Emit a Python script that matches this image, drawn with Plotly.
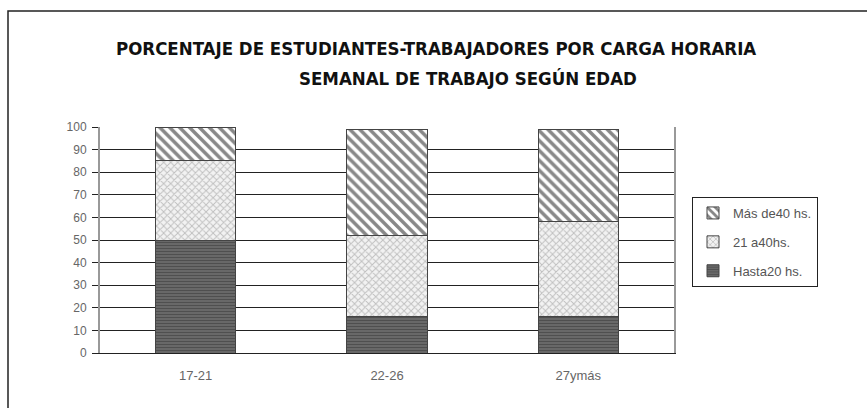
import plotly.graph_objects as go

categories = ["17-21", "22-26", "27ymás"]
hasta20 = [50, 16, 16]
de21a40 = [35, 36, 42]
mas40 = [15, 47, 41]
series_names = ["Hasta20 hs.", "21 a40hs.", "Más de40 hs."]
yticks = [0, 10, 20, 30, 40, 50, 60, 70, 80, 90, 100]

fig = go.Figure()
fig.add_trace(go.Bar(
    x=categories, y=hasta20, name=series_names[0], legendgroup="a", legendrank=3,
    marker=dict(color="#5a5a5a", line=dict(color="#444", width=1),
                pattern=dict(shape="-", fgcolor="#333", bgcolor="#6a6a6a", size=3, solidity=0.4)),
))
fig.add_trace(go.Bar(
    x=categories, y=de21a40, name=series_names[1], legendgroup="b", legendrank=2,
    marker=dict(color="#e0e0e0", line=dict(color="#444", width=1),
                pattern=dict(shape="x", fgcolor="#8c8c8c", bgcolor="#f2f2f2", size=5, solidity=0.35)),
))
fig.add_trace(go.Bar(
    x=categories, y=mas40, name=series_names[2], legendgroup="c", legendrank=1,
    marker=dict(color="white", line=dict(color="#444", width=1),
                pattern=dict(shape="\\", fgcolor="#111", bgcolor="white", size=7, solidity=0.5)),
))

W, H = 867, 408
L, R, T, B = 100, 193, 127, 55
pw, ph = W - L - R, H - T - B

def px2x(px):
    return (px - L) / pw

def py2y(py):
    return (H - B - py) / ph

title_font = dict(family="Liberation Sans Narrow, DejaVu Sans Condensed, DejaVu Sans",
                  size=18.5, color="#111")

fig.update_layout(
    width=W, height=H,
    barmode="stack", bargap=0.58,
    margin=dict(l=L, r=R, t=T, b=B, autoexpand=False),
    paper_bgcolor="white", plot_bgcolor="white",
    font=dict(family="Liberation Sans, Arial", size=12, color="#555"),
    showlegend=True,
    legend=dict(
        x=px2x(692), y=py2y(197), xanchor="left", yanchor="top",
        bordercolor="#222", borderwidth=1, bgcolor="white",
        font=dict(size=13, color="#555"), traceorder="grouped",
        itemwidth=30, tracegroupgap=9,
    ),
    xaxis=dict(
        showgrid=False, showline=True, linecolor="#222", linewidth=1,
        ticks="", tickfont=dict(size=13, color="#666"), ticklabelstandoff=10,
    ),
    yaxis=dict(
        range=[0, 100], tickvals=yticks, showgrid=True, gridcolor="#222", gridwidth=1,
        showline=True, linecolor="#999", linewidth=2, mirror=True,
        ticks="outside", ticklen=6, tickcolor="#222", ticklabelstandoff=3,
        tickfont=dict(size=12, color="#666"), zeroline=False,
    ),
    shapes=[
        dict(type="rect", xref="paper", yref="paper",
             x0=px2x(8), x1=px2x(875), y0=py2y(415), y1=py2y(11),
             line=dict(color="#222", width=1.5), fillcolor="rgba(0,0,0,0)", layer="below"),
    ],
    annotations=[
        dict(text="<b>PORCENTAJE DE ESTUDIANTES-TRABAJADORES POR CARGA HORARIA</b>",
             xref="paper", yref="paper", x=px2x(436), y=py2y(48), showarrow=False,
             xanchor="center", yanchor="middle", font=title_font),
        dict(text="<b>SEMANAL DE TRABAJO SEGÚN EDAD</b>",
             xref="paper", yref="paper", x=px2x(468), y=py2y(79), showarrow=False,
             xanchor="center", yanchor="middle", font=title_font),
    ],
)

fig.write_html("out.html", config={"displayModeBar": False},
               post_script="document.body.style.margin='0';")
